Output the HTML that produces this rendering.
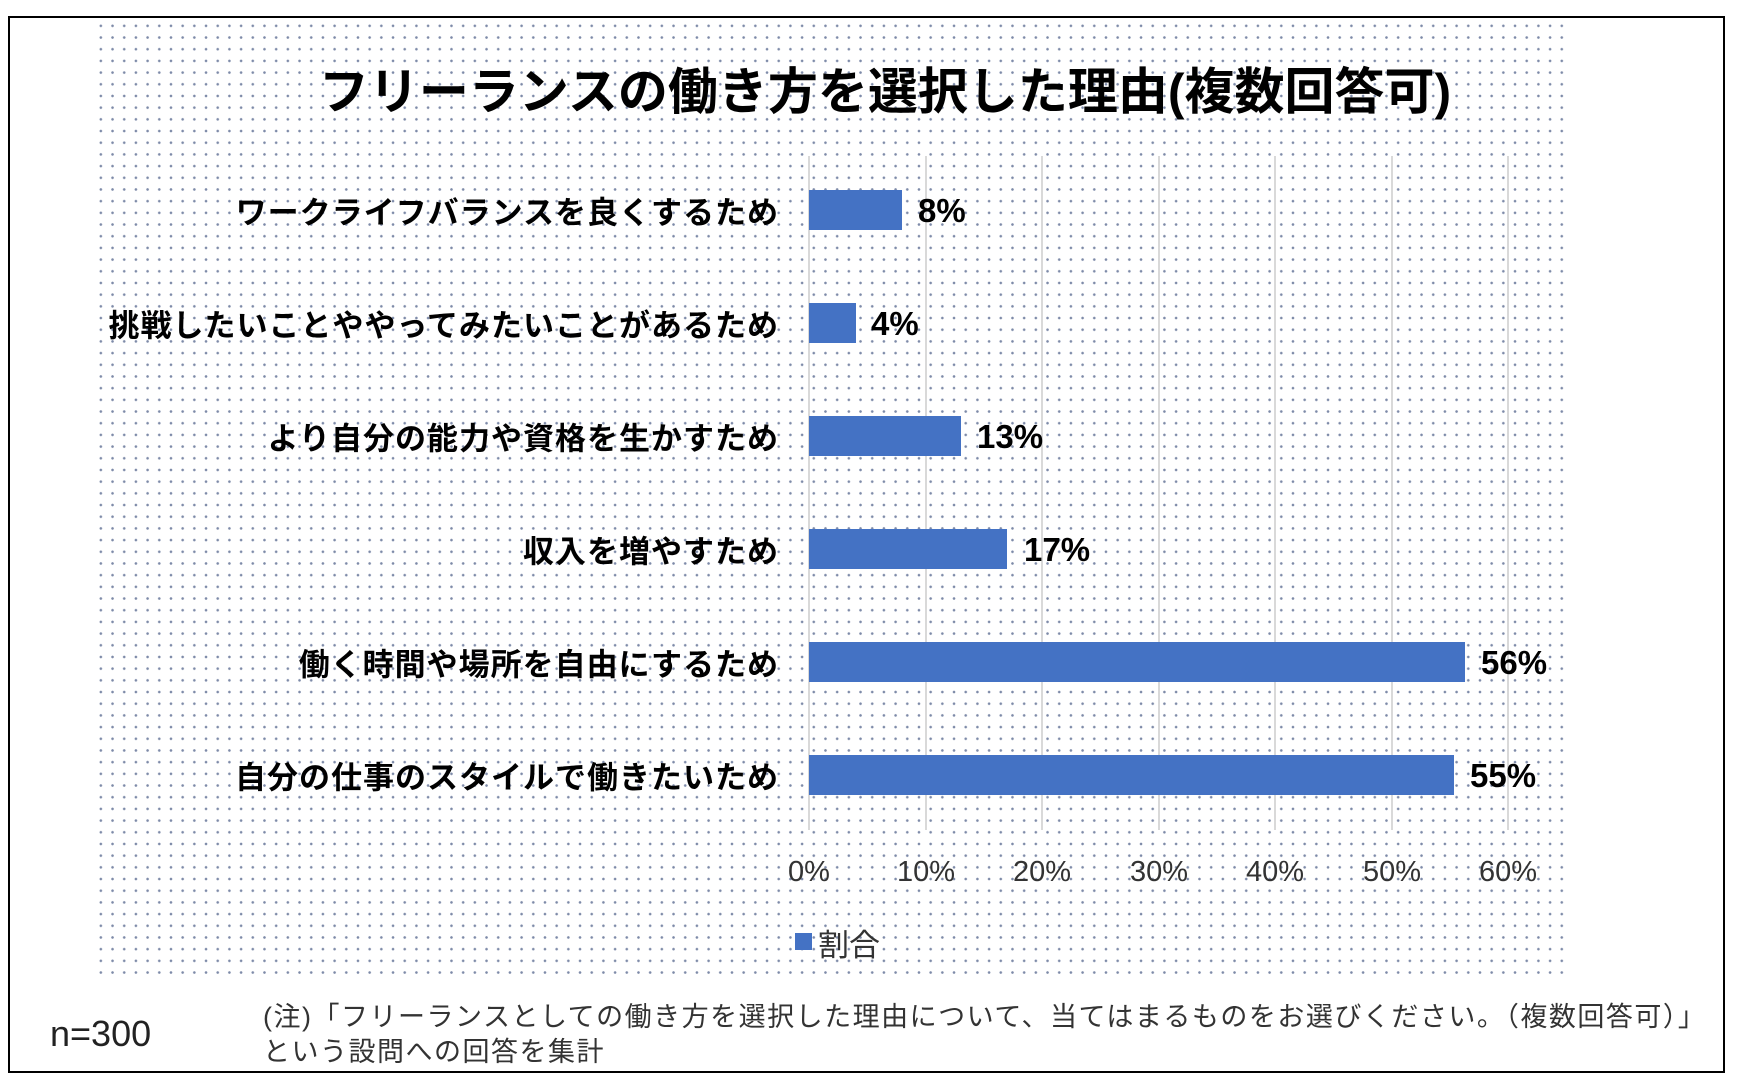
<!DOCTYPE html>
<html><head><meta charset="utf-8">
<style>
body{margin:0;width:1745px;height:1090px;background:#fff;position:relative;overflow:hidden;font-family:"Liberation Sans","Noto Sans CJK JP",sans-serif;}
.frame{position:absolute;left:8px;top:16px;width:1713px;height:1053px;border:2px solid #000;}
.dots{position:absolute;left:95px;top:20px;width:1470px;height:958px;background-image:radial-gradient(circle,#7d8aa8 1.1px,transparent 1.5px);background-size:11.7px 11.7px;}
.t{position:absolute;white-space:nowrap;color:#000;}
.g{position:absolute;top:156px;width:2px;height:674px;background:#d9d9d9;}
.bar{position:absolute;left:809px;height:40px;background:#4472c4;}
.lab{position:absolute;right:966px;font-size:31px;letter-spacing:1px;font-weight:bold;transform:translateY(-50%);white-space:nowrap;}
.val{position:absolute;font-size:33px;font-weight:bold;transform:translateY(-50%);}
.tick{position:absolute;top:856px;font-size:29px;color:#333;transform:translateX(-50%);}
</style></head><body>
<div class="frame"></div>
<div class="dots"></div>
<div class="t" style="left:0;width:1770px;text-align:center;top:52px;font-size:50px;font-weight:bold;">フリーランスの働き方を選択した理由(複数回答可)</div>
<div class="g" style="left:808px"></div>
<div class="g" style="left:925px"></div>
<div class="g" style="left:1041px"></div>
<div class="g" style="left:1158px"></div>
<div class="g" style="left:1274px"></div>
<div class="g" style="left:1391px"></div>
<div class="g" style="left:1507px"></div>

<div class="lab" style="top:210px">ワークライフバランスを良くするため</div>
<div class="lab" style="top:323px">挑戦したいことややってみたいことがあるため</div>
<div class="lab" style="top:436px">より自分の能力や資格を生かすため</div>
<div class="lab" style="top:549px">収入を増やすため</div>
<div class="lab" style="top:662px">働く時間や場所を自由にするため</div>
<div class="lab" style="top:775px">自分の仕事のスタイルで働きたいため</div>

<div class="bar" style="top:190px;width:93px"></div>
<div class="bar" style="top:303px;width:47px"></div>
<div class="bar" style="top:416px;width:152px"></div>
<div class="bar" style="top:529px;width:198px"></div>
<div class="bar" style="top:642px;width:656px"></div>
<div class="bar" style="top:755px;width:645px"></div>

<div class="val" style="left:918px;top:211px">8%</div>
<div class="val" style="left:871px;top:324px">4%</div>
<div class="val" style="left:977px;top:437px">13%</div>
<div class="val" style="left:1024px;top:550px">17%</div>
<div class="val" style="left:1481px;top:663px">56%</div>
<div class="val" style="left:1470px;top:776px">55%</div>

<div class="tick" style="left:809px">0%</div>
<div class="tick" style="left:926px">10%</div>
<div class="tick" style="left:1042px">20%</div>
<div class="tick" style="left:1159px">30%</div>
<div class="tick" style="left:1275px">40%</div>
<div class="tick" style="left:1392px">50%</div>
<div class="tick" style="left:1508px">60%</div>

<div style="position:absolute;left:795px;top:933px;width:17px;height:17px;background:#4472c4"></div>
<div class="t" style="left:818px;top:920px;font-size:31px;color:#333">割合</div>

<div class="t" style="left:50px;top:1013px;font-size:36px;color:#222">n=300</div>
<div class="t" style="left:263px;top:995px;font-size:27px;letter-spacing:1.5px;color:#333">(注)「フリーランスとしての働き方を選択した理由について、当てはまるものをお選びください。（複数回答可）」</div>
<div class="t" style="left:263px;top:1030px;font-size:27px;letter-spacing:1.5px;color:#333">という設問への回答を集計</div>
</body></html>
